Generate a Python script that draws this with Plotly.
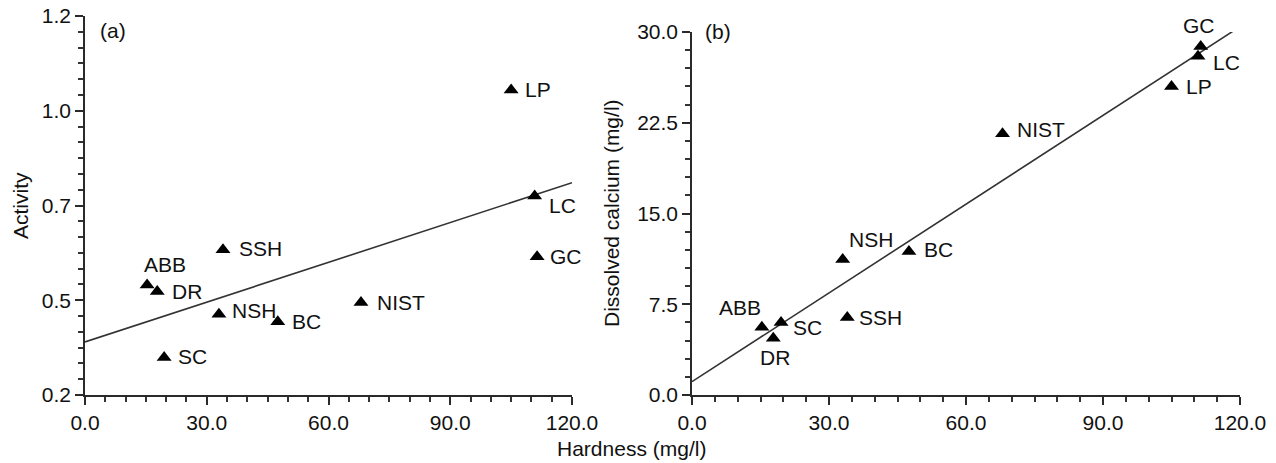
import plotly.graph_objects as go

W, H = 1276, 463

# ---------------- data ----------------
samples = ["ABB", "DR", "SC", "NSH", "SSH", "BC", "NIST", "LP", "LC", "GC"]
hardness = [15.3, 17.8, 19.5, 33.0, 34.0, 47.5, 68.0, 105.0, 110.8, 111.4]
activity = [0.540, 0.523, 0.349, 0.463, 0.633, 0.443, 0.494, 1.055, 0.775, 0.615]
calcium = [5.6, 4.7, 6.0, 11.2, 6.4, 11.85, 21.6, 25.5, 28.0, 28.8]

fit_a_x = [0.0, 120.0]
fit_a_y = [0.390, 0.810]
fit_b_x = [0.0, 118.6]
fit_b_y = [1.1, 30.1]

# activity axis labels as printed in the figure (ticks every 0.25)
a_alias = {"0.25": "0.2", "0.50": "0.5", "0.75": "0.7", "1.00": "1.0", "1.25": "1.2"}

# label placement (xanchor, yanchor, xshift, yshift) per sample
place_a = {
    "ABB": ("left", "middle", -5, 21), "DR": ("left", "middle", 13, 0),
    "SC": ("left", "middle", 12, 1), "NSH": ("left", "middle", 11, 4),
    "SSH": ("left", "middle", 14, 1), "BC": ("left", "middle", 12, 0),
    "NIST": ("left", "middle", 14, 0), "LP": ("left", "middle", 12, 0),
    "LC": ("left", "middle", 12, -9), "GC": ("left", "middle", 11, 0),
}
place_b = {
    "ABB": ("right", "middle", 1, 20), "DR": ("center", "middle", 2, -19),
    "SC": ("left", "middle", 10, -5), "NSH": ("left", "middle", 4, 20),
    "SSH": ("left", "middle", 10, 0), "BC": ("left", "middle", 13, 2),
    "NIST": ("left", "middle", 12, 4), "LP": ("left", "middle", 12, 0),
    "LC": ("left", "middle", 13, -6), "GC": ("center", "middle", -2, 21),
}

FONT = "Liberation Sans, Arial, Helvetica, sans-serif"
FS = 21
AX = "#2a2a2a"
TXT = "#111111"

def px_x(p):
    return p / W

def px_y(p):
    return 1 - p / H

fig = go.Figure()

fig.add_trace(go.Scatter(x=fit_a_x, y=fit_a_y, mode="lines",
                         line=dict(color="#333333", width=1.6),
                         xaxis="x", yaxis="y", showlegend=False, hoverinfo="skip"))
fig.add_trace(go.Scatter(x=hardness, y=activity, mode="markers",
                         marker=dict(symbol="triangle-up", size=13, color="black"),
                         xaxis="x", yaxis="y", showlegend=False, text=samples))
fig.add_trace(go.Scatter(x=fit_b_x, y=fit_b_y, mode="lines",
                         line=dict(color="#333333", width=1.6),
                         xaxis="x2", yaxis="y2", showlegend=False, hoverinfo="skip"))
fig.add_trace(go.Scatter(x=hardness, y=calcium, mode="markers",
                         marker=dict(symbol="triangle-up", size=13, color="black"),
                         xaxis="x2", yaxis="y2", showlegend=False, text=samples))

annotations = []
for name, hx, ay in zip(samples, hardness, activity):
    xa, ya, xs, ys = place_a[name]
    annotations.append(dict(x=hx, y=ay, xref="x", yref="y", text=name, showarrow=False,
                            xanchor=xa, yanchor=ya, xshift=xs, yshift=ys,
                            font=dict(family=FONT, size=FS, color=TXT)))
for name, hx, cy in zip(samples, hardness, calcium):
    xa, ya, xs, ys = place_b[name]
    annotations.append(dict(x=hx, y=cy, xref="x2", yref="y2", text=name, showarrow=False,
                            xanchor=xa, yanchor=ya, xshift=xs, yshift=ys,
                            font=dict(family=FONT, size=FS, color=TXT)))

annotations += [
    dict(x=px_x(631), y=px_y(448), xref="paper", yref="paper", text="Hardness (mg/l)",
         showarrow=False, xanchor="center", yanchor="middle",
         font=dict(family=FONT, size=FS, color=TXT)),
    dict(x=px_x(20), y=px_y(205), xref="paper", yref="paper", text="Activity",
         showarrow=False, textangle=-90, xanchor="center", yanchor="middle",
         font=dict(family=FONT, size=FS, color=TXT)),
    dict(x=px_x(612), y=px_y(213), xref="paper", yref="paper", text="Dissolved calcium (mg/l)",
         showarrow=False, textangle=-90, xanchor="center", yanchor="middle",
         font=dict(family=FONT, size=FS, color=TXT)),
    dict(x=px_x(98), y=px_y(30), xref="paper", yref="paper", text="(a)",
         showarrow=False, xanchor="left", yanchor="middle",
         font=dict(family=FONT, size=FS, color=TXT)),
    dict(x=px_x(703), y=px_y(31), xref="paper", yref="paper", text="(b)",
         showarrow=False, xanchor="left", yanchor="middle",
         font=dict(family=FONT, size=FS, color=TXT)),
]

common = dict(showline=True, linecolor=AX, linewidth=1.5, ticks="outside",
              ticklen=8, tickwidth=1.6, tickcolor=AX, showgrid=False, zeroline=False,
              automargin=False, tickfont=dict(family=FONT, size=FS, color=TXT))

def minor_cfg(t0, dt):
    return dict(tickmode="linear", tick0=t0, dtick=dt, ticks="outside",
                ticklen=5, tickwidth=1.5, tickcolor="#333333", showgrid=False)

def xaxis_cfg(domain, anchor):
    return dict(domain=domain, anchor=anchor, range=[0, 120], tickmode="linear",
                tick0=0, dtick=30, tickformat=".1f", minor=minor_cfg(0, 5), **common)

fig.update_layout(
    template="none",
    width=W, height=H, margin=dict(l=0, r=0, t=0, b=0, pad=0, autoexpand=False),
    paper_bgcolor="white", plot_bgcolor="white", showlegend=False,
    xaxis=xaxis_cfg([px_x(85), px_x(572)], "y"),
    xaxis2=xaxis_cfg([px_x(692), px_x(1240)], "y2"),
    yaxis=dict(domain=[px_y(395), px_y(16)], anchor="x", range=[0.25, 1.25],
               tickmode="linear", tick0=0.25, dtick=0.25, tickformat=".2f",
               labelalias=a_alias, minor=minor_cfg(0.25, 0.25 / 6), **common),
    yaxis2=dict(domain=[px_y(395), px_y(32)], anchor="x2", range=[0, 30],
                tickmode="linear", tick0=0, dtick=7.5, tickformat=".1f",
                minor=minor_cfg(0, 1.5), **common),
    annotations=annotations,
)

fig.write_html(
    "out.html",
    config={"displayModeBar": False},
    post_script="document.body.style.margin='0';document.body.style.overflow='hidden';",
)
